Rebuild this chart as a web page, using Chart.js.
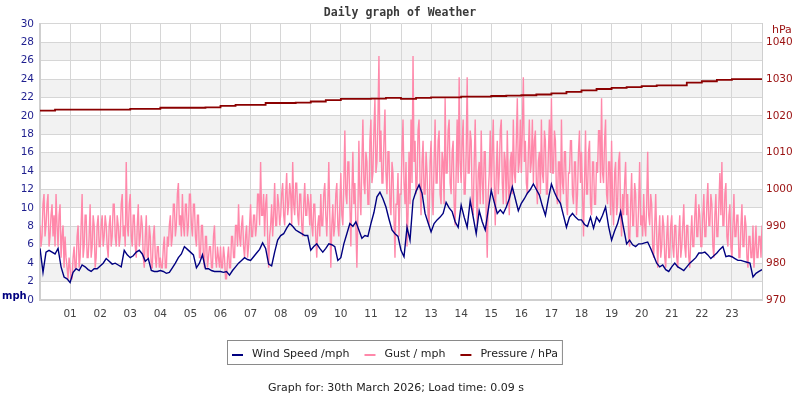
<!DOCTYPE html>
<html>
<head>
<meta charset="utf-8">
<script src="https://cdn.jsdelivr.net/npm/chart.js@4/dist/chart.umd.min.js"></script>
<style>
  html, body { margin: 0; padding: 0; background: #ffffff; }
  #wrap { width: 800px; height: 400px; position: relative; }
</style>
</head>
<body>
<div id="wrap"><canvas id="c" width="800" height="400"></canvas></div>
<script>
// ---------- DATA ----------
const titleText = 'Daily graph of Weather';
const footerText = 'Graph for: 30th March 2026; Load time: 0.09 s';
const seriesNames = ['Wind Speed /mph', 'Gust / mph', 'Pressure / hPa'];
const hourLabels = ['01','02','03','04','05','06','07','08','09','10','11','12',
                    '13','14','15','16','17','18','19','20','21','22','23'];
const mphTicks = [0,2,4,6,8,10,12,14,16,18,20,22,24,26,28,30];
const hPaTicks = [970,980,990,1000,1010,1020,1030,1040];

// wind speed, mph, every 6 minutes from 00:00
const windStepHours = 0.1;
const windSpeed = [
  5.6,3.0,5.2,5.4,5.2,5.0,5.6,3.6,2.5,2.3,
  1.9,3.0,3.4,3.2,3.8,3.6,3.3,3.1,3.4,3.4,
  3.7,4.0,4.5,4.2,3.9,4.0,3.8,3.6,5.4,4.9,
  4.6,4.8,5.2,5.4,5.0,4.2,4.5,3.2,3.1,3.1,
  3.2,3.1,2.9,3.0,3.5,4.0,4.6,5.0,5.8,5.5,
  5.2,4.9,3.5,4.0,4.9,3.4,3.4,3.2,3.1,3.1,
  3.1,3.0,3.1,2.7,3.2,3.6,4.0,4.3,4.6,4.4,
  4.3,4.7,5.1,5.5,6.2,5.6,3.9,3.7,5.2,6.5,
  7.0,7.2,7.8,8.3,8.0,7.6,7.4,7.2,7.0,7.0,
  5.4,5.8,6.1,5.6,5.2,5.6,6.1,6.0,5.8,4.3,
  4.6,6.1,7.2,8.3,8.0,8.5,7.6,6.7,7.0,6.9,
  8.3,9.5,11.2,11.7,11.0,10.1,8.8,7.6,7.2,6.9,
  5.4,4.7,7.9,6.5,10.8,11.8,12.5,11.6,9.4,8.4,
  7.4,8.3,8.7,9.0,9.4,10.6,10.0,9.6,8.5,7.9,
  10.3,9.0,7.9,10.8,9.0,7.2,9.7,8.5,7.6,9.8,
  11.9,10.6,9.4,9.8,9.4,10.1,11.0,12.3,11.0,9.7,
  10.5,11.0,11.6,12.0,12.6,12.0,11.4,10.2,9.2,11.0,
  12.6,11.7,11.0,10.5,9.2,7.9,9.0,9.4,9.0,8.7,
  8.7,8.2,8.0,9.0,7.8,9.0,8.5,9.2,10.1,8.0,
  6.5,7.5,8.3,9.6,7.8,6.1,6.5,6.0,5.8,6.1,
  6.1,6.2,6.3,5.6,4.8,4.0,3.6,3.8,3.3,3.1,
  3.6,4.0,3.6,3.4,3.2,3.6,4.0,4.3,4.6,5.1,
  5.1,5.2,4.9,4.5,4.8,5.1,5.5,5.8,4.7,4.8,
  4.7,4.5,4.3,4.3,4.2,4.1,4.0,2.5,2.9,3.1,
  3.3
];

// gust, mph, every 2 minutes from 00:00 (one row per hour)
const gustStepHours = 1 / 30;
const gust = [
  8.1,5.8,6.9,10.4,11.5,6.9,8.1,10.4,11.5,5.8,6.9,9.2,10.4,6.9,9.2,5.8,11.5,8.1,5.8,9.2,10.4,4.6,6.9,8.1,3.5,6.9,4.6,3.5,2.3,4.6,
  3.5,2.3,2.3,4.6,5.8,3.5,3.5,6.9,8.1,3.5,4.6,8.1,11.5,4.6,5.8,9.2,9.2,4.6,4.6,6.9,10.4,4.6,5.8,9.2,8.1,3.5,4.6,8.1,9.2,5.8,
  5.8,8.1,9.2,5.8,6.9,9.2,8.1,5.8,4.6,8.1,9.2,5.8,6.9,10.4,10.4,6.9,5.8,9.2,8.1,5.8,6.9,10.4,11.5,6.9,8.1,5.8,15.0,8.1,6.9,10.4,
  11.5,6.9,5.8,9.2,9.2,5.8,4.6,8.1,10.4,5.8,6.9,9.2,8.1,4.6,3.5,6.9,9.2,4.6,4.6,8.1,6.9,3.5,3.5,6.9,8.1,4.6,3.5,5.8,5.8,3.5,
  4.6,3.5,3.5,5.8,6.9,3.5,3.5,6.9,5.8,8.1,9.2,5.8,6.9,10.4,10.4,6.9,8.1,11.5,12.7,8.1,9.2,6.9,11.5,8.1,6.9,10.4,10.4,6.9,8.1,11.5,
  11.5,8.1,6.9,10.4,10.4,6.9,5.8,9.2,9.2,4.6,4.6,8.1,8.1,4.6,3.5,6.9,6.9,3.5,4.6,5.8,5.8,3.5,3.5,6.9,8.1,4.6,3.5,5.8,4.6,3.5,
  5.8,3.5,3.5,5.8,4.6,2.3,2.3,4.6,5.8,3.5,3.5,6.9,6.9,4.6,4.6,8.1,8.1,5.8,10.4,6.9,5.8,8.1,9.2,5.8,4.6,6.9,8.1,4.6,5.8,8.1,
  10.4,6.9,6.9,9.2,9.2,6.9,8.1,11.5,11.5,8.1,15.0,9.2,9.2,11.5,6.9,10.4,11.5,6.9,3.5,6.9,8.1,10.4,6.9,9.2,12.7,8.1,8.1,11.5,10.4,8.1,
  9.2,11.5,12.7,9.2,8.1,11.5,13.8,9.2,10.4,12.7,11.5,8.1,15.0,10.4,9.2,12.7,12.7,9.2,8.1,11.5,11.5,8.1,6.9,10.4,12.7,9.2,9.2,11.5,10.4,8.1,
  11.5,8.1,6.9,10.4,10.4,6.9,4.6,8.1,9.2,6.9,11.5,8.1,8.1,11.5,12.7,9.2,6.9,10.4,15.0,9.2,3.5,8.1,10.4,6.9,8.1,11.5,12.7,8.1,6.9,10.4,
  13.8,9.2,8.1,12.7,18.4,11.5,10.4,15.0,15.0,10.4,5.8,11.5,16.1,10.4,12.7,8.1,3.5,9.2,17.3,11.5,9.2,15.0,19.6,12.7,11.5,16.1,15.0,10.4,10.4,17.3,
  19.6,12.7,13.8,18.4,21.9,13.8,15.0,19.6,26.5,15.0,18.4,12.7,12.7,17.3,20.7,13.8,11.5,16.1,16.1,10.4,9.2,15.0,13.8,9.2,4.6,10.4,10.4,13.8,6.9,11.5,
  11.5,16.1,19.6,12.7,10.4,15.0,5.8,9.2,16.1,10.4,19.6,12.7,26.5,15.0,17.3,11.5,12.7,18.4,19.6,12.7,9.2,15.0,17.3,11.5,11.5,16.1,13.8,9.2,8.1,15.0,
  17.3,11.5,9.2,15.0,19.6,12.7,12.7,17.3,18.4,11.5,10.4,16.1,15.0,10.4,21.9,13.8,13.8,18.4,19.6,12.7,11.5,16.1,17.3,10.4,8.1,13.8,19.6,12.7,24.2,15.0,
  12.7,17.3,19.6,11.5,11.5,16.1,24.2,13.8,13.8,18.4,17.3,10.4,9.2,15.0,19.6,12.7,8.1,13.8,15.0,10.4,18.4,12.7,10.4,16.1,16.1,9.2,4.6,11.5,13.8,18.4,
  11.5,16.1,19.6,12.7,8.1,13.8,17.3,11.5,13.8,18.4,19.6,12.7,10.4,16.1,15.0,10.4,18.4,12.7,9.2,15.0,16.1,11.5,19.6,13.8,12.7,17.3,21.9,13.8,15.0,19.6,
  13.8,18.4,24.2,15.0,17.3,12.7,11.5,16.1,19.6,13.8,15.0,19.6,12.7,17.3,18.4,12.7,10.4,15.0,16.1,11.5,19.6,13.8,12.7,18.4,17.3,11.5,11.5,16.1,19.6,13.8,
  21.9,13.8,13.8,18.4,17.3,11.5,10.4,15.0,15.0,10.4,19.6,12.7,11.5,16.1,16.1,10.4,9.2,13.8,13.8,17.3,17.3,11.5,10.4,15.0,15.0,9.2,11.5,16.1,18.4,12.7,
  16.1,11.5,6.9,12.7,18.4,11.5,11.5,16.1,17.3,10.4,9.2,15.0,15.0,10.4,10.4,15.0,13.8,18.4,18.4,12.7,21.9,13.8,12.7,17.3,19.6,11.5,10.4,15.0,15.0,9.2,
  17.3,10.4,8.1,13.8,15.0,9.2,10.4,15.0,16.1,9.2,6.9,11.5,9.2,12.7,15.0,9.2,11.5,6.9,5.8,10.4,13.8,8.1,8.1,12.7,11.5,6.9,6.9,10.4,15.0,8.1,
  9.2,6.9,11.5,8.1,6.9,10.4,16.1,9.2,8.1,11.5,10.4,5.8,4.6,8.1,11.5,6.9,3.5,6.9,9.2,4.6,5.8,9.2,8.1,4.6,3.5,6.9,9.2,4.6,4.6,8.1,
  9.2,5.8,4.6,8.1,8.1,4.6,3.5,6.9,9.2,4.6,5.8,8.1,10.4,5.8,4.6,8.1,8.1,4.6,3.5,6.9,9.2,5.8,5.8,9.2,11.5,6.9,6.9,10.4,9.2,5.8,
  5.8,9.2,11.5,6.9,6.9,10.4,12.7,8.1,8.1,11.5,10.4,5.8,4.6,9.2,11.5,6.9,6.9,10.4,13.8,9.2,15.0,8.1,8.1,11.5,12.7,6.9,5.8,9.2,10.4,5.8,
  4.6,8.1,11.5,6.9,6.9,9.2,9.2,4.6,4.6,8.1,10.4,5.8,5.8,9.2,8.1,4.6,3.5,6.9,6.9,4.6,4.6,8.1,3.5,5.8,8.1,4.6,4.6,6.9,6.9,4.6,
  8.1
];

// pressure, hPa, every 30 minutes from 00:00
const pressureStepHours = 0.5;
const pressure = [
  1021.4,1021.7,1021.7,1021.7,1021.7,1021.7,1021.9,1021.9,
  1022.2,1022.2,1022.2,1022.3,1022.7,1023.0,1023.0,1023.5,
  1023.5,1023.6,1023.9,1024.3,1024.6,1024.6,1024.7,1024.9,
  1024.6,1024.9,1025.0,1025.0,1025.2,1025.2,1025.4,1025.5,
  1025.6,1025.8,1026.1,1026.5,1026.9,1027.3,1027.6,1027.8,
  1028.1,1028.3,1028.3,1029.0,1029.4,1029.8,1030.0,1030.0,
  1030.0
];

// ---------- STYLE ----------
const windColor = '#000080';
const gustColor = '#ff88aa';
const pressureColor = '#8b0000';
const leftTickColor = '#1f1f8f';
const rightTickColor = '#9a1010';
const gridColor = '#d6d6d6';
const bandColor = '#f2f2f2';
const tickFont = { family: 'DejaVu Sans', size: 10.5 };

function toPoints(values, step) {
  return values.map((v, i) => ({ x: i * step, y: v }));
}

const bandsPlugin = {
  id: 'bands',
  beforeDraw(chart) {
    const { ctx, chartArea } = chart;
    const y = chart.scales.y;
    ctx.save();
    ctx.fillStyle = bandColor;
    for (let i = 1; i + 1 < mphTicks.length; i += 2) {
      const top = y.getPixelForValue(mphTicks[i + 1]);
      const bot = y.getPixelForValue(mphTicks[i]);
      ctx.fillRect(chartArea.left, top, chartArea.right - chartArea.left, bot - top);
    }
    ctx.restore();
  }
};

const extrasPlugin = {
  id: 'extras',
  afterDraw(chart) {
    const { ctx, chartArea } = chart;
    ctx.save();
    // unit labels
    ctx.textBaseline = 'middle';
    ctx.textAlign = 'left';
    ctx.font = 'bold 10px "DejaVu Sans"';
    ctx.fillStyle = windColor;
    ctx.fillText('mph', 2, chartArea.bottom - 4);
    ctx.font = '11px "DejaVu Sans"';
    ctx.fillStyle = rightTickColor;
    ctx.fillText('hPa', chartArea.right + 10, chartArea.top + 6);

    // legend
    ctx.font = '11px "DejaVu Sans"';
    const ds = chart.data.datasets;
    let x = 232;
    const ly = 354;
    const startX = x;
    seriesNames.forEach(name => {
      const d = ds.find(s => s.label === name);
      ctx.fillStyle = d.borderColor;
      ctx.fillRect(x, ly, 11, 2);
      ctx.fillStyle = '#222';
      ctx.fillText(d.label, x + 20, ly);
      x += 20 + ctx.measureText(d.label).width + 15;
    });
    ctx.strokeStyle = '#8a8a8a';
    ctx.lineWidth = 1;
    ctx.strokeRect(startX - 4.5, 340.5, x - startX - 6, 24);

    // footer
    ctx.textAlign = 'center';
    ctx.fillStyle = '#222';
    ctx.fillText(footerText, 396, 388);
    ctx.restore();
  }
};

new Chart(document.getElementById('c'), {
  type: 'line',
  data: {
    datasets: [
      {
        label: seriesNames[0],
        data: toPoints(windSpeed, windStepHours),
        borderColor: windColor,
        backgroundColor: windColor,
        borderWidth: 1.4,
        yAxisID: 'y',
        order: 0
      },
      {
        label: seriesNames[2],
        data: toPoints(pressure, pressureStepHours),
        borderColor: pressureColor,
        backgroundColor: pressureColor,
        borderWidth: 1.8,
        stepped: 'before',
        yAxisID: 'y1',
        order: 1
      },
      {
        label: seriesNames[1],
        data: toPoints(gust, gustStepHours),
        borderColor: gustColor,
        backgroundColor: gustColor,
        borderWidth: 1.4,
        yAxisID: 'y',
        order: 2
      }
    ]
  },
  options: {
    responsive: false,
    animation: false,
    devicePixelRatio: 1,
    layout: { padding: { left: 0, right: 0, top: 0, bottom: 72 } },
    elements: { point: { radius: 0 }, line: { tension: 0 } },
    plugins: {
      legend: { display: false },
      tooltip: { enabled: false },
      title: {
        display: true,
        text: titleText,
        color: '#3a3a3a',
        font: { family: 'DejaVu Sans Mono', size: 11.5, weight: 'bold' },
        padding: { top: 6, bottom: 4 }
      }
    },
    scales: {
      x: {
        type: 'linear',
        min: 0,
        max: 24,
        afterBuildTicks(scale) {
          scale.ticks = [{ value: 0 }].concat(hourLabels.map((l, i) => ({ value: i + 1 }))).concat([{ value: 24 }]);
        },
        afterFit(scale) { scale.height = 28; },
        grid: { color: gridColor, drawTicks: false, lineWidth: 1 },
        border: { color: '#cfcfcf', width: 2 },
        ticks: {
          autoSkip: false,
          maxRotation: 0,
          padding: 8,
          color: '#444',
          font: tickFont,
          callback: (v) => hourLabels[v - 1] || ''
        }
      },
      y: {
        type: 'linear',
        position: 'left',
        min: 0,
        max: 30,
        afterBuildTicks(scale) { scale.ticks = mphTicks.map(v => ({ value: v })); },
        afterFit(scale) { scale.width = 40; },
        grid: { color: gridColor, drawTicks: false },
        border: { color: '#cfcfcf', width: 2 },
        ticks: { padding: 6, color: leftTickColor, font: tickFont, callback: (v) => String(v) }
      },
      y1: {
        type: 'linear',
        position: 'right',
        min: 970,
        max: 1045,
        afterBuildTicks(scale) { scale.ticks = hPaTicks.map(v => ({ value: v })); },
        afterFit(scale) { scale.width = 38; },
        grid: { drawOnChartArea: false, drawTicks: false },
        border: { color: '#cfcfcf', width: 1 },
        ticks: { padding: 4, color: rightTickColor, font: tickFont, callback: (v) => String(v) }
      }
    }
  },
  plugins: [bandsPlugin, extrasPlugin]
});
</script>
</body>
</html>
